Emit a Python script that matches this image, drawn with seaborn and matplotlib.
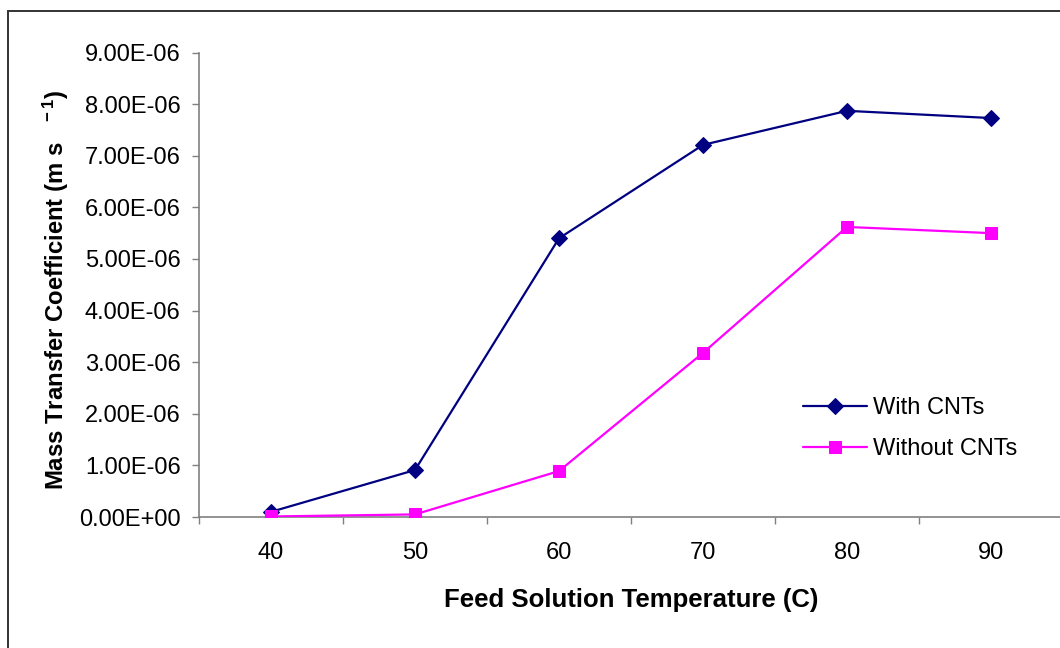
import matplotlib
matplotlib.use("Agg")
import matplotlib.pyplot as plt
import matplotlib.patches as mpatches
import seaborn as sns
import pandas as pd
import numpy as np

# ---- data ----
temperatures = ["40", "50", "60", "70", "80", "90"]
with_cnts = [0.10e-6, 0.91e-6, 5.40e-6, 7.21e-6, 7.87e-6, 7.73e-6]
without_cnts = [0.01e-6, 0.05e-6, 0.89e-6, 3.18e-6, 5.62e-6, 5.50e-6]
series_names = ["With CNTs", "Without CNTs"]
y_ticks = [0, 1e-6, 2e-6, 3e-6, 4e-6, 5e-6, 6e-6, 7e-6, 8e-6, 9e-6]

sns.set_theme(style="white")
plt.rcParams['font.family'] = ['Liberation Sans', 'DejaVu Sans']
plt.rcParams['mathtext.default'] = 'regular'
plt.rcParams['axes.unicode_minus'] = False
plt.rcParams['text.color'] = 'black'
plt.rcParams['axes.labelcolor'] = 'black'
plt.rcParams['xtick.color'] = 'black'
plt.rcParams['ytick.color'] = 'black'

W, H = 1060, 648
fig = plt.figure(figsize=(W / 100, H / 100), dpi=100)
fig.patch.set_facecolor("white")

# outer chart border (cropped at right/bottom)
fig.patches.append(mpatches.Rectangle((8 / W, -0.05), 1.2, 1 - 10.5 / H + 0.05,
                                      transform=fig.transFigure, fill=False,
                                      edgecolor="#333333", linewidth=1.4, zorder=0))

left, right, top, bottom = 199, 1063, 52.5, 517
ax = fig.add_axes([left / W, 1 - bottom / H, (right - left) / W, (bottom - top) / H])
ax.set_facecolor("none")

pos = np.arange(len(temperatures))
df = pd.DataFrame({
    "pos": np.concatenate([pos, pos]),
    "k": with_cnts + without_cnts,
    "series": [series_names[0]] * len(pos) + [series_names[1]] * len(pos),
})

colors = {"With CNTs": "#000080", "Without CNTs": "#FF00FF"}
sns.lineplot(data=df[df.series == series_names[0]], x="pos", y="k", ax=ax,
             color=colors[series_names[0]], marker="D", markersize=8.5,
             markeredgecolor=colors[series_names[0]], linewidth=1.6,
             label=series_names[0], zorder=3)
sns.lineplot(data=df[df.series == series_names[1]], x="pos", y="k", ax=ax,
             color=colors[series_names[1]], marker="s", markersize=9,
             markeredgecolor=colors[series_names[1]], linewidth=1.6,
             label=series_names[1], zorder=3)

ax.set_xlim(-0.5, len(temperatures) - 0.5)
ax.set_ylim(0, 9e-6)

# y axis
ax.set_yticks(y_ticks)
ax.set_yticklabels([f"{v:.2E}" for v in y_ticks])
ax.tick_params(axis="y", which="major", direction="out", length=5, width=1,
               color="#808080", labelcolor="black", labelsize=17, pad=8.3, left=True)

# x axis: ticks at category boundaries, labels at centers
ax.set_xticks(np.arange(-0.5, len(temperatures), 1.0))
ax.set_xticklabels([])
ax.set_xticks(pos, minor=True)
ax.set_xticklabels(temperatures, minor=True)
ax.tick_params(axis="x", which="major", direction="out", length=5, width=1,
               color="#808080", bottom=True)
ax.tick_params(axis="x", which="minor", length=0, labelsize=17, pad=18.2,
               labelcolor="black")

for s in ["top", "right"]:
    ax.spines[s].set_visible(False)
for s in ["left", "bottom"]:
    ax.spines[s].set_color("#808080")
    ax.spines[s].set_linewidth(1.2)

ax.set_xlabel("Feed Solution Temperature (C)", fontsize=18.5, fontweight="bold",
              color="black")
ax.set_ylabel("Mass Transfer Coefficient (m s $^{\\ \\ -1}$)", fontsize=17.2,
              fontweight="bold", color="black")
ax.xaxis.set_label_coords(0.5, -0.153)
ax.yaxis.set_label_coords(-0.148, 0.49)

leg = ax.legend(loc="upper left",
                bbox_to_anchor=((803 - left) / (right - left), (bottom - 397) / (bottom - top)),
                frameon=False, fontsize=17, handlelength=2.7, labelspacing=0.81,
                handletextpad=0.25, borderaxespad=0, borderpad=0)
for t in leg.get_texts():
    t.set_color("black")

fig.savefig("out.png", dpi=100, facecolor="white")
